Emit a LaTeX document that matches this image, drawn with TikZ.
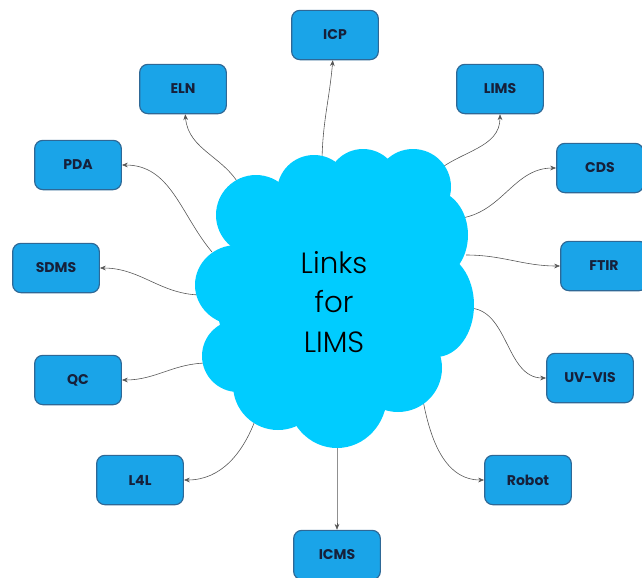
\documentclass[tikz,border=0pt]{standalone}
\usepackage{fontspec}
\setmainfont{Poppins}
\newfontfamily\cloudfont{Poppins Light}
\usetikzlibrary{arrows.meta, positioning}

\definecolor{boxblue}{RGB}{26,164,232}
\definecolor{boxedge}{RGB}{46,104,150}
\definecolor{cloudblue}{RGB}{0,204,255}
\definecolor{labelnavy}{RGB}{22,32,58}
\definecolor{wire}{RGB}{85,85,85}

\begin{document}
\begin{tikzpicture}[
    x=0.03cm, y=0.03cm,
    box/.style={rectangle, draw=boxedge, line width=1pt, fill=boxblue, rounded corners=7pt, minimum width=2.6cm, minimum height=1.48cm, font=\bfseries\fontsize{12}{14}\selectfont, text=labelnavy},
    arrow/.style={-{Stealth[length=5pt, width=4pt]}, draw=wire, line width=0.5pt},
    puff/.style={fill=cloudblue, draw=none},
    cloudtext/.style={align=center, font=\cloudfont\fontsize{25}{34}\selectfont, text=black}
  ]

  \useasboundingbox (0,0) rectangle (642,-577);

  % ============ SYSTEMS ============
  \node[box] (icp)   at (335,-35)  {ICP};
  \node[box] (eln)   at (183,-89)  {ELN};
  \node[box] (lims)  at (500,-89)  {LIMS};
  \node[box] (pda)   at (78,-165)  {PDA};
  \node[box] (cds)   at (600,-168) {CDS};
  \node[box] (sdms)  at (56,-268)  {SDMS};
  \node[box] (ftir)  at (604,-266) {FTIR};
  \node[box] (qc)    at (78,-380)  {QC};
  \node[box] (uvvis) at (590,-378) {UV-VIS};
  \node[box] (lfl)   at (140,-480) {L4L};
  \node[box] (robot) at (528,-480) {Robot};
  \node[box] (icms)  at (337,-555) {ICMS};

  % ============ LINKS ============
  % start points on the cloud edge
  \coordinate (c-icp)   at (322,-165);
  \coordinate (c-eln)   at (242,-190);
  \coordinate (c-lims)  at (436,-172);
  \coordinate (c-pda)   at (212,-252);
  \coordinate (c-cds)   at (462,-218);
  \coordinate (c-sdms)  at (202,-295);
  \coordinate (c-ftir)  at (466,-255);
  \coordinate (c-qc)    at (208,-363);
  \coordinate (c-uvvis) at (468,-308);
  \coordinate (c-lfl)   at (256,-418);
  \coordinate (c-robot) at (422,-395);
  \coordinate (c-icms)  at (337,-440);

  \draw[arrow] (c-icp) to[out=90, in=-95] (icp);
  \draw[arrow] (c-eln) to[out=115, in=-85] (eln);
  \draw[arrow] (c-lims) to[out=40, in=-90] (lims);
  \draw[arrow] (c-pda) to[out=130, in=0] (pda);
  \draw[arrow] (c-cds) to[out=10, in=180] (cds);
  \draw[arrow] (c-sdms) to[out=180, in=0] (sdms);
  \draw[arrow] (c-ftir) to[out=0, in=180] (ftir);
  \draw[arrow] (c-qc) to[out=180, in=0] (qc);
  \draw[arrow] (c-uvvis) to[out=0, in=180] (uvvis);
  \draw[arrow] (c-lfl) to[out=-110, in=0] (lfl);
  \draw[arrow] (c-robot) to[out=-80, in=180] (robot);
  \draw[arrow] (c-icms) to[out=-90, in=90] (icms);

  % ============ CLOUD ============
  \fill[puff] (335,-300) ellipse [x radius=118, y radius=112];
  \fill[puff] (256,-215) circle [radius=40];
  \fill[puff] (314,-192) circle [radius=37];
  \fill[puff] (363,-185) circle [radius=36];
  \fill[puff] (413,-187) circle [radius=38];
  \fill[puff] (432,-235) ellipse [x radius=36, y radius=45];
  \fill[puff] (436,-305) ellipse [x radius=38, y radius=52];
  \fill[puff] (398,-368) circle [radius=44];
  \fill[puff] (337,-395) ellipse [x radius=50, y radius=53];
  \fill[puff] (278,-385) circle [radius=45];
  \fill[puff] (237,-285) ellipse [x radius=42, y radius=40];
  \fill[puff] (238,-356) circle [radius=36];

  \node[cloudtext] (cloud) at (334,-302) {Links\\for\\LIMS};

\end{tikzpicture}
\end{document}
